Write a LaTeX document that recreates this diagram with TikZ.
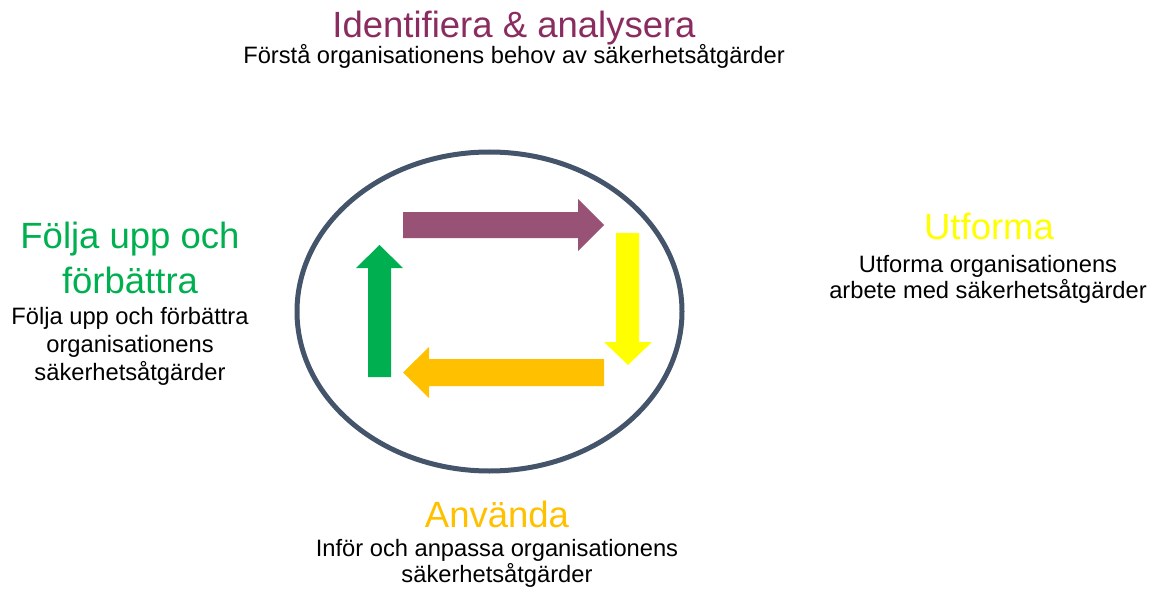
\documentclass[tikz,border=0pt]{standalone}
\usepackage{fontspec}
\setmainfont{Liberation Sans}
\definecolor{ring}{HTML}{44546A}
\definecolor{c1}{HTML}{985276}
\definecolor{c1t}{HTML}{8A2C60}
\definecolor{c2}{HTML}{FFFF00}
\definecolor{c3}{HTML}{FFC000}
\definecolor{c4}{HTML}{00B050}
% anchor=base sits on the last line of a node
\tikzset{
  head/.style={font=\fontsize{36.5}{45}\selectfont, align=center, anchor=base, inner sep=0pt},
  body/.style={font=\fontsize{23.7}{25.5}\selectfont, align=center, anchor=base, inner sep=0pt}
}

\begin{document}
\begin{tikzpicture}[x=1pt, y=-1pt]
  \useasboundingbox (0,0) rectangle (1157,591);
  % the cycle
  \draw[ring, line width=5pt] (489.5,311.5) coordinate(mid) ellipse [x radius=192.5, y radius=159.5];
  \fill[c1] (403,212) -- (578,212) -- (578,199) -- (604,225) -- (578,251) -- (578,238) -- (403,238) -- cycle;
  \fill[c2] (616,233) -- (639,233) -- (639,342) -- (652,342) -- (628,365) -- (604,342) -- (616,342) -- cycle;
  \fill[c3] (604,359) -- (604,386) -- (429,386) -- (429,398) -- (403,372.5) -- (429,347) -- (429,359) -- cycle;
  \fill[c4] (368,377) -- (391,377) -- (391,268) -- (403,268) -- (379.5,245) -- (356,268) -- (368,268) -- cycle;
  % the four steps
  \node[head, c1t] (identify) at (514,38) {Identifiera \& analysera};
  \node[body] (identifytxt) at (514,64) {Förstå organisationens behov av säkerhetsåtgärder};
  \node[head, c2] (design) at (989,239) {Utforma};
  \node[body] (designtxt) at (988,298) {Utforma organisationens\\arbete med säkerhetsåtgärder};
  \node[head, c3] (use) at (497,527) {Använda};
  \node[body] (usetxt) at (497,582) {Inför och anpassa organisationens\\säkerhetsåtgärder};
  \node[head, c4] (improve) at (130,293) {Följa upp och\\förbättra};
  \node[body, font=\fontsize{23.7}{28}\selectfont] (improvetxt) at (130,380) {Följa upp och förbättra\\organisationens\\säkerhetsåtgärder};
\end{tikzpicture}
\end{document}
